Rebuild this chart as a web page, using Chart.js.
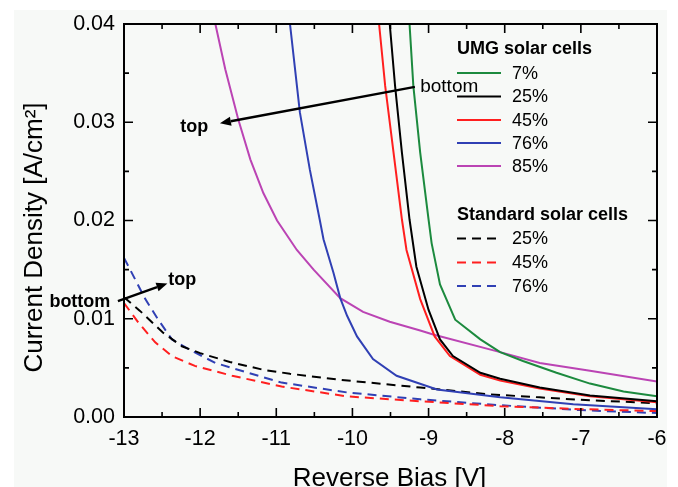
<!DOCTYPE html>
<html>
<head>
<meta charset="utf-8">
<script src="https://cdn.jsdelivr.net/npm/chart.js@4.4.1/dist/chart.umd.min.js"></script>
<style>
  html, body { margin: 0; padding: 0; background: #fff; }
  #wrap { width: 678px; height: 487px; }
</style>
</head>
<body>
<div id="wrap"><canvas id="jvChart" width="678" height="487"></canvas></div>
<script>
// Axis ticks
const xTicks = [-13, -12, -11, -10, -9, -8, -7, -6];
const yTicks = [0.00, 0.01, 0.02, 0.03, 0.04];

// UMG solar cells (solid lines), reverse bias [V] / current density [A/cm2]
const umg7X  = [-9.25, -9.20, -9.11, -9.00, -8.96, -8.85, -8.65, -8.32, -8.06, -7.76, -7.32, -6.88, -6.44, -6.00];
const umg7Y  = [0.040, 0.0337, 0.0269, 0.0201, 0.0177, 0.0135, 0.0099, 0.0079, 0.0066, 0.0057, 0.0045, 0.0034, 0.0026, 0.0021];
const umg25X = [-9.51, -9.44, -9.35, -9.25, -9.16, -9.00, -8.85, -8.68, -8.32, -8.06, -7.54, -6.88, -6.00];
const umg25Y = [0.040, 0.0337, 0.0269, 0.0201, 0.0153, 0.0109, 0.0079, 0.0062, 0.0045, 0.0039, 0.0030, 0.0022, 0.0016];
const umg45X = [-9.65, -9.57, -9.46, -9.35, -9.29, -9.11, -8.92, -8.72, -8.32, -8.06, -7.54, -6.88, -6.00];
const umg45Y = [0.040, 0.0337, 0.0269, 0.0201, 0.0170, 0.0120, 0.0082, 0.0062, 0.0043, 0.0037, 0.0029, 0.0021, 0.0015];
const umg76X = [-10.82, -10.69, -10.56, -10.43, -10.38, -10.25, -10.16, -10.07, -9.94, -9.73, -9.42, -8.89, -8.06, -7.10, -6.00];
const umg76Y = [0.040, 0.0310, 0.0252, 0.0201, 0.0181, 0.0147, 0.0121, 0.0103, 0.0082, 0.0059, 0.0042, 0.0028, 0.0020, 0.0013, 0.0008];
const umg85X = [-11.80, -11.67, -11.50, -11.34, -11.17, -10.99, -10.73, -10.51, -10.16, -9.86, -9.51, -9.11, -8.94, -8.06, -7.54, -6.88, -6.00];
const umg85Y = [0.040, 0.0354, 0.0303, 0.0262, 0.0228, 0.0200, 0.0170, 0.0150, 0.0121, 0.0107, 0.0097, 0.0088, 0.0084, 0.0066, 0.0055, 0.0047, 0.0036];

// Standard solar cells (dashed lines)
const std25X = [-13.0, -12.79, -12.49, -12.24, -12.0, -11.61, -11.17, -10.82, -10.18, -9.11, -8.19, -7.54, -6.88, -6.00];
const std25Y = [0.0122, 0.0108, 0.0086, 0.0072, 0.0065, 0.0056, 0.0048, 0.0044, 0.0038, 0.0030, 0.0023, 0.0020, 0.0017, 0.0014];
const std45X = [-13.0, -12.81, -12.59, -12.37, -12.07, -11.58, -10.93, -10.07, -9.11, -8.06, -7.0, -6.00];
const std45Y = [0.0116, 0.0096, 0.0076, 0.0062, 0.0052, 0.0042, 0.0031, 0.0021, 0.0016, 0.0011, 0.0008, 0.0006];
const std76X = [-13.0, -12.72, -12.55, -12.37, -12.15, -11.80, -11.37, -10.93, -10.07, -9.11, -8.06, -7.0, -6.00];
const std76Y = [0.0162, 0.0120, 0.0099, 0.0079, 0.0069, 0.0055, 0.0045, 0.0035, 0.0025, 0.0018, 0.0012, 0.0007, 0.0004];

// Annotations (data units)
const arrows = [
  { from: [-9.18, 0.0336], to: [-11.74, 0.0299] },
  { from: [-13.08, 0.0118], to: [-12.43, 0.0136] }
];
const notes = [
  { text: 'bottom', at: [-9.11, 0.0331], bold: false },
  { text: 'top', at: [-12.26, 0.0290], bold: true },
  { text: 'top', at: [-12.42, 0.0134], bold: true },
  { text: 'bottom', at: [-13.98, 0.0112], bold: true }
];

const xTitle = 'Reverse Bias [V]';
const yTitle = 'Current Density [A/cm²]';

const FONT = '"Liberation Sans", Arial, Helvetica, sans-serif';
const zip = (xs, ys) => xs.map((x, i) => ({ x: x, y: ys[i] }));

function series(label, group, xs, ys, color, dashed) {
  return {
    label: label,
    group: group,
    data: zip(xs, ys),
    borderColor: color,
    backgroundColor: color,
    borderWidth: 2,
    borderDash: dashed ? [9, 6] : [],
    pointRadius: 0,
    tension: 0,
    fill: false
  };
}

const GREEN = '#1c8a3e', BLACK = '#000000', RED = '#ff1f1f', BLUE = '#3040b4', PINK = '#bb44b4';

const datasets = [
  series('7%', 'UMG solar cells', umg7X, umg7Y, GREEN, false),
  series('25%', 'UMG solar cells', umg25X, umg25Y, BLACK, false),
  series('45%', 'UMG solar cells', umg45X, umg45Y, RED, false),
  series('76%', 'UMG solar cells', umg76X, umg76Y, BLUE, false),
  series('85%', 'UMG solar cells', umg85X, umg85Y, PINK, false),
  series('25%', 'Standard solar cells', std25X, std25Y, BLACK, true),
  series('45%', 'Standard solar cells', std45X, std45Y, RED, true),
  series('76%', 'Standard solar cells', std76X, std76Y, BLUE, true)
];

// page panel behind the chart
const panelPlugin = {
  id: 'panel',
  beforeDraw(chart) {
    const ctx = chart.ctx;
    ctx.save();
    ctx.fillStyle = '#ffffff';
    ctx.fillRect(0, 0, chart.width, chart.height);
    ctx.fillStyle = '#f7f9f7';
    ctx.fillRect(14, 10, 653, chart.height - 10);
    ctx.restore();
  }
};

// box frame with inward ticks on all four sides, plus axis titles
const framePlugin = {
  id: 'frame',
  afterDatasetsDraw(chart) {
    const { ctx, chartArea: a, scales } = chart;
    const xs = scales.x, ys = scales.y;
    ctx.save();
    ctx.strokeStyle = '#000';
    ctx.lineWidth = 2;
    ctx.strokeRect(a.left, a.top, a.right - a.left, a.bottom - a.top);
    ctx.lineWidth = 1.6;
    ctx.beginPath();
    for (let i = 0; i < xTicks.length; i++) {
      const px = xs.getPixelForValue(xTicks[i]);
      ctx.moveTo(px, a.bottom); ctx.lineTo(px, a.bottom - 9);
      ctx.moveTo(px, a.top); ctx.lineTo(px, a.top + 9);
      if (i < xTicks.length - 1) {
        const mx = xs.getPixelForValue((xTicks[i] + xTicks[i + 1]) / 2);
        ctx.moveTo(mx, a.bottom); ctx.lineTo(mx, a.bottom - 5);
        ctx.moveTo(mx, a.top); ctx.lineTo(mx, a.top + 5);
      }
    }
    for (let i = 0; i < yTicks.length; i++) {
      const py = ys.getPixelForValue(yTicks[i]);
      ctx.moveTo(a.left, py); ctx.lineTo(a.left + 9, py);
      ctx.moveTo(a.right, py); ctx.lineTo(a.right - 9, py);
      if (i < yTicks.length - 1) {
        const my = ys.getPixelForValue((yTicks[i] + yTicks[i + 1]) / 2);
        ctx.moveTo(a.left, my); ctx.lineTo(a.left + 5, my);
        ctx.moveTo(a.right, my); ctx.lineTo(a.right - 5, my);
      }
    }
    ctx.stroke();

    ctx.fillStyle = '#000';
    ctx.font = '26px ' + FONT;
    ctx.textAlign = 'center';
    ctx.textBaseline = 'alphabetic';
    ctx.fillText(xTitle, (a.left + a.right) / 2 - 1, 486);
    ctx.save();
    ctx.translate(35, (a.top + a.bottom) / 2 + 17);
    ctx.rotate(-Math.PI / 2);
    ctx.textBaseline = 'middle';
    ctx.fillText(yTitle, 0, 0);
    ctx.restore();
    ctx.restore();
  }
};

// arrows and "top"/"bottom" notes
const notesPlugin = {
  id: 'notes',
  afterDraw(chart) {
    const { ctx, scales } = chart;
    const X = v => scales.x.getPixelForValue(v), Y = v => scales.y.getPixelForValue(v);
    ctx.save();
    ctx.strokeStyle = '#000';
    ctx.fillStyle = '#000';
    ctx.lineWidth = 2.5;
    arrows.forEach(ar => {
      const x1 = X(ar.from[0]), y1 = Y(ar.from[1]);
      const x2 = X(ar.to[0]), y2 = Y(ar.to[1]);
      const ang = Math.atan2(y2 - y1, x2 - x1);
      const hl = 11, hw = 4.5;
      const bx = x2 - hl * Math.cos(ang), by = y2 - hl * Math.sin(ang);
      ctx.beginPath();
      ctx.moveTo(x1, y1); ctx.lineTo(bx, by);
      ctx.stroke();
      ctx.beginPath();
      ctx.moveTo(x2, y2);
      ctx.lineTo(bx + hw * Math.sin(ang), by - hw * Math.cos(ang));
      ctx.lineTo(bx - hw * Math.sin(ang), by + hw * Math.cos(ang));
      ctx.closePath();
      ctx.fill();
    });
    ctx.textBaseline = 'alphabetic';
    ctx.textAlign = 'left';
    notes.forEach(n => {
      ctx.font = (n.bold ? 'bold 18px ' : '19px ') + FONT;
      ctx.fillText(n.text, X(n.at[0]), Y(n.at[1]));
    });
    ctx.restore();
  }
};

// two-group legend with headings
const legendPlugin = {
  id: 'groupLegend',
  afterDraw(chart) {
    const ctx = chart.ctx;
    const x0 = 457, lineLen = 44, textX = 512;
    const layout = [
      { title: 'UMG solar cells', titleY: 49, rows: [73, 96.5, 120, 143, 166] },
      { title: 'Standard solar cells', titleY: 215, rows: [238.5, 262.5, 286] }
    ];
    ctx.save();
    ctx.textBaseline = 'middle';
    ctx.textAlign = 'left';
    ctx.fillStyle = '#000';
    layout.forEach(g => {
      ctx.font = 'bold 18px ' + FONT;
      ctx.fillText(g.title, x0, g.titleY);
      const items = chart.data.datasets.filter(d => d.group === g.title);
      items.forEach((d, i) => {
        const y = g.rows[i];
        ctx.strokeStyle = d.borderColor;
        ctx.lineWidth = 2;
        ctx.setLineDash(d.borderDash);
        ctx.beginPath();
        ctx.moveTo(x0, y); ctx.lineTo(x0 + lineLen, y);
        ctx.stroke();
        ctx.setLineDash([]);
        ctx.font = '18px ' + FONT;
        ctx.fillStyle = '#000';
        ctx.fillText(d.label, textX, y + 1);
      });
    });
    ctx.restore();
  }
};

new Chart(document.getElementById('jvChart'), {
  type: 'line',
  data: { datasets: datasets },
  plugins: [panelPlugin, framePlugin, notesPlugin, legendPlugin],
  options: {
    responsive: false,
    devicePixelRatio: 1,
    animation: false,
    events: [],
    layout: { padding: { top: 24, right: 21, left: 0, bottom: 0 } },
    plugins: {
      legend: { display: false },
      tooltip: { enabled: false }
    },
    scales: {
      x: {
        type: 'linear',
        min: -13,
        max: -6,
        afterBuildTicks: s => { s.ticks = xTicks.map(v => ({ value: v })); },
        afterFit: s => { s.height = 70; },
        grid: { display: false, drawTicks: false },
        border: { display: false },
        ticks: {
          color: '#000',
          padding: 9,
          maxRotation: 0,
          font: { family: FONT, size: 21.5 },
          callback: v => String(v)
        },
        title: { display: false }
      },
      y: {
        type: 'linear',
        min: 0,
        max: 0.04,
        afterBuildTicks: s => { s.ticks = yTicks.map(v => ({ value: v })); },
        afterFit: s => { s.width = 124; },
        grid: { display: false, drawTicks: false },
        border: { display: false },
        ticks: {
          color: '#000',
          padding: 9,
          font: { family: FONT, size: 21.5 },
          callback: v => v.toFixed(2)
        },
        title: { display: false }
      }
    }
  }
});
</script>
</body>
</html>
